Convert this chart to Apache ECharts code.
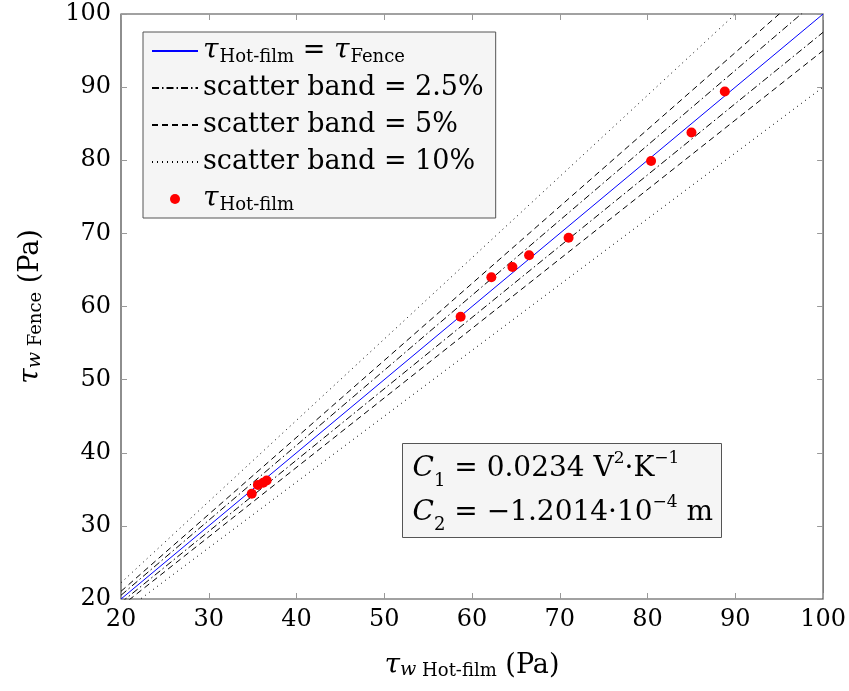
<!DOCTYPE html>
<html><head><meta charset="utf-8">
<script src="https://cdn.jsdelivr.net/npm/echarts@6/dist/echarts.min.js"></script>
<style>html,body{margin:0;padding:0;background:#fff}#c{width:849px;height:691px}</style>
</head><body><div id="c"></div>
<script>
// tick labels
const xTicks = [20, 30, 40, 50, 60, 70, 80, 90, 100];
const yTicks = [20, 30, 40, 50, 60, 70, 80, 90, 100];
// measured points (tau Hot-film vs tau Fence)
const hotFilm = [34.9, 35.6, 36.2, 36.6, 58.7, 62.2, 64.6, 66.5, 71.0, 80.4, 85.0, 88.8];
const fence   = [34.4, 35.6, 35.9, 36.2, 58.6, 64.0, 65.4, 67.0, 69.4, 79.9, 83.8, 89.4];
// reference line endpoints
const eqLine = [[20, 20], [100, 100]];
// scatter band endpoints
const band25Upper = [[20, 20.51], [100, 102.56]];
const band25Lower = [[20, 19.5], [100, 97.5]];
const band5Upper  = [[20, 21.05], [100, 105.26]];
const band5Lower  = [[20, 19.0], [100, 95.0]];
const band10Upper = [[20, 22.22], [100, 111.11]];
const band10Lower = [[20, 18.0], [100, 90.0]];

const FONT = 'DejaVu Serif';
const chart = echarts.init(document.getElementById('c'), null, {renderer: 'canvas'});
const pts = hotFilm.map((v, i) => [v, fence[i]]);

const legendNames = {
  eq: '{i|τ}{s|Hot-film}{n| = }{i|τ}{s|Fence}',
  b25: '{n|scatter band = 2.5%}',
  b5: '{n|scatter band = 5%}',
  b10: '{n|scatter band = 10%}',
  pts: '{i|τ}{s|Hot-film}'
};
const richBase = {
  n: {fontFamily: FONT, fontSize: 27, color: '#000'},
  i: {fontFamily: FONT, fontSize: 28, fontStyle: 'italic', color: '#000'},
  s: {fontFamily: FONT, fontSize: 18, color: '#000', verticalAlign: 'bottom', padding: [11, 0, 0, 1]}
};

function lineSeries(name, data, color, type) {
  return {
    name: name, type: 'line', data: data, symbol: 'none', showSymbol: false, clip: true, silent: true,
    lineStyle: {color: color, width: 1, type: type}, itemStyle: {color: color},
    animation: false, z: 2
  };
}
const hideSym = {opacity: 0};
const axisRich = {
  n: {fontFamily: FONT, fontSize: 27, color: '#000'},
  i: {fontFamily: FONT, fontSize: 28, fontStyle: 'italic', color: '#000'},
  w: {fontFamily: FONT, fontSize: 19, fontStyle: 'italic', color: '#000', verticalAlign: 'bottom', padding: [10, 0, 0, 0]},
  s: {fontFamily: FONT, fontSize: 18, color: '#000', verticalAlign: 'bottom', padding: [10, 0, 0, 0]}
};

const option = {
  animation: false,
  backgroundColor: '#fff',
  grid: {left: 121, right: 25, top: 14, bottom: 92, show: true, borderColor: '#444', borderWidth: 1.2, backgroundColor: 'transparent'},
  xAxis: [{
    type: 'value', min: 20, max: 100, interval: 10, position: 'bottom',
    axisLine: {show: false}, splitLine: {show: false},
    axisTick: {show: true, inside: true, length: 6, lineStyle: {color: '#999'}},
    axisLabel: {fontFamily: FONT, fontSize: 24, color: '#000', margin: 9,
      formatter: v => xTicks.includes(v) ? String(v) : ''},
    name: '{i|τ}{w|w}{s| Hot-film}{n| (Pa)}', nameLocation: 'middle', nameGap: 52,
    nameTextStyle: {rich: axisRich}
  }, {
    type: 'value', min: 20, max: 100, interval: 10, position: 'top',
    axisLine: {show: false}, splitLine: {show: false}, axisLabel: {show: false},
    axisTick: {show: true, inside: true, length: 6, lineStyle: {color: '#999'}}
  }],
  yAxis: [{
    type: 'value', min: 20, max: 100, interval: 10, position: 'left',
    axisLine: {show: false}, splitLine: {show: false},
    axisTick: {show: true, inside: true, length: 6, lineStyle: {color: '#999'}},
    axisLabel: {fontFamily: FONT, fontSize: 24, color: '#000', margin: 10,
      formatter: v => yTicks.includes(v) ? String(v) : ''},
    name: '{i|τ}{w|w}{s| Fence}{n| (Pa)}', nameLocation: 'middle', nameGap: 76, nameRotate: 90,
    nameTextStyle: {rich: axisRich}
  }, {
    type: 'value', min: 20, max: 100, interval: 10, position: 'right',
    axisLine: {show: false}, splitLine: {show: false}, axisLabel: {show: false},
    axisTick: {show: true, inside: true, length: 6, lineStyle: {color: '#999'}}
  }],
  legend: {
    show: true, orient: 'vertical', left: 143, top: 32,
    backgroundColor: '#f5f5f5', borderColor: '#555', borderWidth: 1,
    padding: [4, 12, 4, 8], itemGap: 7, itemWidth: 46, itemHeight: 10,
    data: [
      {name: 'eq', itemStyle: hideSym}, {name: 'b25', itemStyle: hideSym},
      {name: 'b5', itemStyle: hideSym}, {name: 'b10', itemStyle: hideSym},
      {name: 'pts', icon: 'circle'}
    ],
    formatter: name => legendNames[name],
    textStyle: {fontFamily: FONT, fontSize: 27, color: '#000', lineHeight: 30, rich: richBase},
    selectedMode: false
  },
  graphic: [{
    type: 'group', left: 402, top: 443, silent: true,
    children: [{
      type: 'rect', shape: {x: 0, y: 0, width: 319, height: 94},
      style: {fill: '#f5f5f5', stroke: '#555', lineWidth: 1}
    }, {
      type: 'text', x: 10, y: 3,
      style: {
        text: '{i|C}{sb|1}{n| = 0.0234 V}{sp|2}{n|·K}{sp|−1}\n{i|C}{sb|2}{n| = −1.2014·10}{sp|−4}{n| m}',
        fontFamily: FONT, fontSize: 28, fill: '#000', lineHeight: 44,
        rich: {
          n: {fontFamily: FONT, fontSize: 28, fill: '#000', lineHeight: 44},
          i: {fontFamily: FONT, fontSize: 28, fontStyle: 'italic', fill: '#000', lineHeight: 44},
          sb: {fontFamily: FONT, fontSize: 18, fill: '#000', verticalAlign: 'bottom', padding: [10, 0, 0, 0]},
          sp: {fontFamily: FONT, fontSize: 17, fill: '#000', verticalAlign: 'top', padding: [4, 0, 0, 0]}
        }
      }
    }]
  }],
  series: [
    lineSeries('b10', band10Upper, '#000', [1, 4]),
    lineSeries('b10', band10Lower, '#000', [1, 4]),
    lineSeries('b5', band5Upper, '#000', [6, 4]),
    lineSeries('b5', band5Lower, '#000', [6, 4]),
    lineSeries('b25', band25Upper, '#000', [7, 3, 1.5, 3]),
    lineSeries('b25', band25Lower, '#000', [7, 3, 1.5, 3]),
    lineSeries('eq', eqLine, '#0000ff', 'solid'),
    {
      name: 'pts', type: 'scatter', data: pts, symbol: 'circle', symbolSize: 10,
      itemStyle: {color: '#ff0000', opacity: 1}, z: 5, silent: true
    }
  ]
};
chart.setOption(option);
</script></body></html>
